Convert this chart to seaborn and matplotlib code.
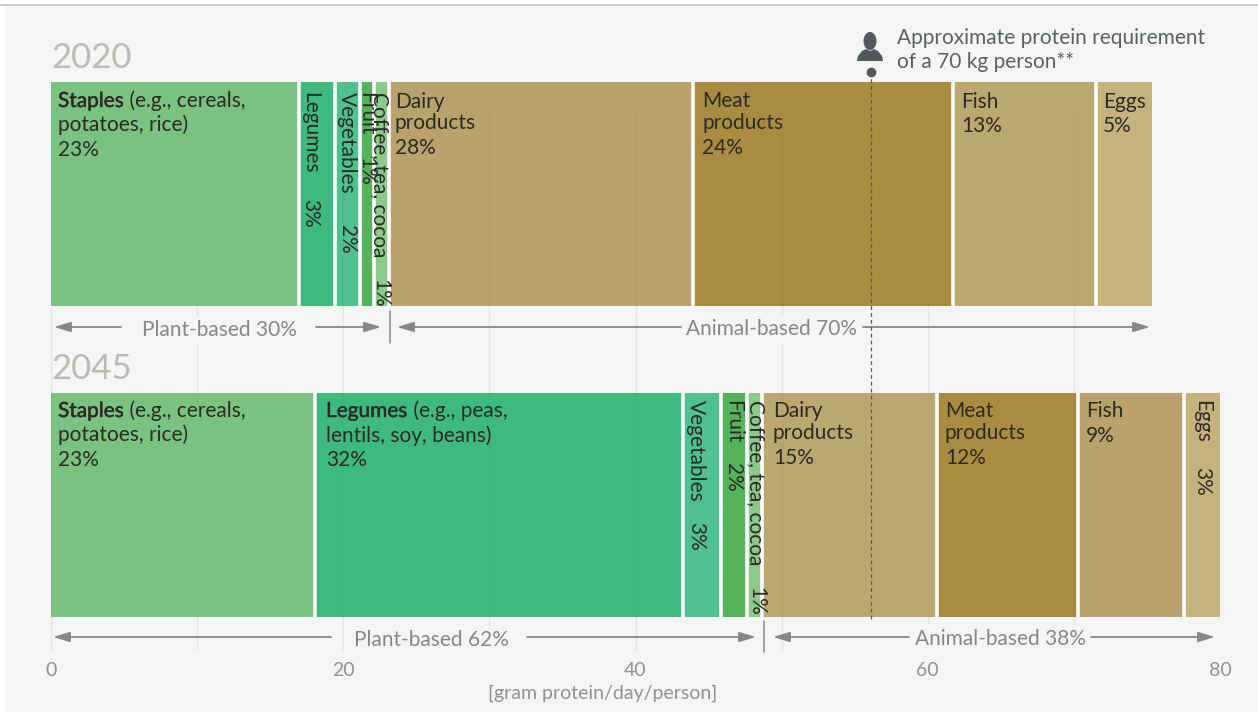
import matplotlib
matplotlib.use("Agg")
import matplotlib.pyplot as plt
import matplotlib.patheffects as pe
from matplotlib.patches import Ellipse, Polygon, Rectangle
from matplotlib.transforms import Affine2D, blended_transform_factory
import pandas as pd
import seaborn as sns

W, H = 1258, 713

years = ["2020", "2045"]
foods = ["Staples", "Legumes", "Vegetables", "Fruit", "Coffee, tea, cocoa", "Dairy", "Meat", "Fish", "Eggs"]
grams_2020 = [17.0, 2.46, 1.71, 0.96, 0.99, 20.8, 17.8, 9.8, 3.8]
grams_2045 = [18.07, 25.15, 2.6, 1.81, 1.06, 11.94, 9.62, 7.26, 2.5]
colors_2020 = ["#7ac27f", "#3fba7f", "#50c08f", "#55b45b", "#8bca8b", "#b9a26c", "#a98b41", "#bba770", "#c6b27f"]
colors_2045 = ["#7ac27f", "#3fba7f", "#50c08f", "#55b45b", "#8bca8b", "#bba770", "#a98b41", "#b9a26c", "#c6b27f"]
protein_requirement = 56.1
x_ticks = [0, 20, 40, 60, 80]
grid_ticks = [0, 10, 20, 30, 40, 50, 60, 70, 80]

df = pd.concat([
    pd.DataFrame({"year": "2020", "food": foods, "grams": grams_2020, "color": colors_2020}),
    pd.DataFrame({"year": "2045", "food": foods, "grams": grams_2045, "color": colors_2045}),
])
df["left"] = df.groupby("year")["grams"].cumsum() - df["grams"]

sns.set_theme(style="white")
plt.rcParams["font.family"] = ["Lato", "DejaVu Sans"]

DARK = "#2b2b26"
GREY = "#85878a"
PANEL = "#f4f6f5"
TICK = "#8f9193"
FS = 15

fig = plt.figure(figsize=(W / 100, H / 100), dpi=100, facecolor="white")
px = Affine2D().scale(1, -1).translate(0, H)  # pixel coords, y down

fig.add_artist(Rectangle((6, 5), W, 707, transform=px, facecolor=PANEL, edgecolor="none", zorder=-5))
fig.add_artist(plt.Line2D([0, W], [4.5, 4.5], transform=px, color="#c5c7c9", lw=1.2))

# axes runs from the panel top down to the tick labels
ax = fig.add_axes([51 / W, (H - 652) / H, (1220 - 51) / W, 652 / H])
ax.set_facecolor("none")

for _, row in df.iterrows():
    sns.barplot(x=[row["grams"]], y=[row["year"]], order=years, orient="h", left=row["left"],
                color=row["color"], saturation=1, width=224 / 311, ax=ax, zorder=2,
                edgecolor="none", linewidth=0)

ax.set_xlim(0, 80)
ax.set_ylim((652 - 194) / 311, -194 / 311)
ax.set_yticks([])
ax.set_ylabel("")
ax.set_xticks(x_ticks)
ax.tick_params(axis="x", length=0, pad=7, labelsize=14, labelcolor=TICK)
ax.set_xlabel("[gram protein/day/person]", fontsize=14, color=TICK, labelpad=4)
ax.xaxis.label.set_x((603 - 51) / (1220 - 51))
sns.despine(ax=ax, left=True, bottom=True, top=True, right=True)

xpx = blended_transform_factory(ax.transData, px)

# white gaps between the segments
for (year, group), top in zip(df.groupby("year"), [82, 393]):
    edges = group["left"].values[1:]
    ax.vlines(edges, top, top + 224, transform=xpx, color="white", lw=2.6, zorder=3)

# faint gridlines, barely there over the bars
for tick in grid_ticks:
    start = 307 if tick == 0 else 110
    ax.vlines(tick, start, 650, transform=xpx, color="black", alpha=0.045, lw=1, zorder=1)
    ax.vlines(tick, start, 650, transform=xpx, color="black", alpha=0.025, lw=1, zorder=4)


def label(x, y, s, size=FS, color=DARK, rotation=0, va="baseline", ha="left", **kw):
    return ax.text(x, y, s, transform=px, fontsize=size, color=color, rotation=rotation,
                   va=va, ha=ha, zorder=6, **kw)


def block(x, ys, lines):
    for y, s in zip(ys, lines):
        label(x, y, s)


def bold_block(x, ys, head, tail, rest):
    t = label(x, ys[0], head, path_effects=[pe.withStroke(linewidth=0.3, foreground=DARK)])
    ax.annotate(tail, xy=(1, 0), xycoords=t, xytext=(0, 0), textcoords="offset points",
                fontsize=FS, color=DARK, va="bottom", ha="left", zorder=6)
    for y, s in zip(ys[1:], rest):
        label(x, y, s)


def vert(x, y_name, y_pct, name, pct):
    label(x, y_name, name, rotation=270, va="top", ha="center")
    label(x, y_pct, pct, rotation=270, va="top", ha="center")


# year titles
label(51, 68, "2020", size=25, color="#bdbab4")
label(51, 379, "2045", size=25, color="#bdbab4")

# 2020 labels
bold_block(58, [107, 131, 156], "Staples", " (e.g., cereals,", ["potatoes, rice)", "23%"])
vert(310, 92, 199, "Legumes", "3%")
vert(346.5, 92, 225, "Vegetables", "2%")
vert(366, 92, 157, "Fruit", "1%")
vert(380, 92, 279, "Coffee, tea, cocoa", "1%")
block(395, [108, 129, 154], ["Dairy", "products", "28%"])
block(702, [107, 129, 154], ["Meat", "products", "24%"])
block(961, [108, 132], ["Fish", "13%"])
block(1103, [108, 132], ["Eggs", "5%"])

# 2045 labels
bold_block(58, [417, 441, 466], "Staples", " (e.g., cereals,", ["potatoes, rice)", "23%"])
bold_block(326, [417, 442, 466], "Legumes", " (e.g., peas,", ["lentils, soy, beans)", "32%"])
vert(696, 400, 522, "Vegetables", "3%")
vert(733, 400, 463, "Fruit", "2%")
vert(756, 400, 587, "Coffee, tea, cocoa", "1%")
block(773, [417, 439, 464], ["Dairy", "products", "15%"])
block(945, [417, 439, 464], ["Meat", "products", "12%"])
block(1086, [417, 442], ["Fish", "9%"])
vert(1202, 400, 467, "Eggs", "3%")


def arrow(x_from, x_to, y):
    ax.annotate("", xy=(x_to, y), xytext=(x_from, y), xycoords=px, textcoords=px, zorder=5,
                arrowprops=dict(arrowstyle="-|>,head_length=1.0,head_width=0.3", color=GREY, lw=1.3,
                                shrinkA=0, shrinkB=0, mutation_scale=10))


def share(x0, gap0, gap1, x1, y, baseline, s, xc):
    label(xc, baseline, s, color=GREY, ha="center", bbox=dict(facecolor=PANEL, edgecolor="none", pad=3))
    arrow(gap0, x0, y)
    arrow(gap1, x1, y)


# plant / animal share arrows
share(54, 121, 316, 381, 327, 336, "Plant-based 30%", 219)
share(397, 681, 863, 1150, 327, 335, "Animal-based 70%", 772)
share(53, 331, 527, 756, 637, 646, "Plant-based 62%", 431)
share(773, 909, 1091, 1215, 637, 645, "Animal-based 38%", 1000)
ax.plot([389.5, 389.5], [311, 343], transform=px, color=GREY, lw=1.1, zorder=5)
ax.plot([764, 764], [621, 652], transform=px, color=GREY, lw=1.1, clip_on=False, zorder=5)

# protein requirement marker
ax.plot([protein_requirement] * 2, [72, 620], transform=xpx, color="#55585a", lw=0.9,
        ls=(0, (3, 2.5)), clip_on=False, zorder=5)
ax.plot([protein_requirement], [72], transform=xpx, marker="o", ms=6, color="#55585a", clip_on=False, zorder=5)
fig.add_artist(Ellipse((870, 41), 13, 18, transform=px, facecolor="#55585a", edgecolor="none"))
fig.add_artist(Polygon([(857, 61), (858, 56), (862, 51), (866, 49), (870, 51), (874, 49), (878, 51),
                        (882, 56), (883, 61)], transform=px, facecolor="#55585a", edgecolor="none"))
label(897, 44, "Approximate protein requirement", color="#5d6062")
label(897, 68, "of a 70 kg person**", color="#5d6062")

fig.savefig("out.png", dpi=100, facecolor="white")
